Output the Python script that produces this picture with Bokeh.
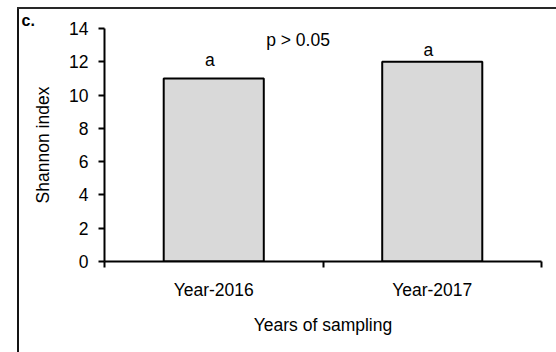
from bokeh.plotting import figure
from bokeh.models import Range1d, FixedTicker, ColumnDataSource, Label
from bokeh.embed import file_html
from bokeh.resources import INLINE
from bokeh.core.properties import value

# data
years = ["Year-2016", "Year-2017"]
shannon = [11, 12]
letters = ["a", "a"]
y_ticks = [0, 2, 4, 6, 8, 10, 12, 14]
p_text = "p > 0.05"
panel = "c."

FONT = "Liberation Sans"
FS = "17.5px"

xs = [i + 0.5 for i in range(len(years))]
src = ColumnDataSource(dict(x=xs, top=shannon, lab=letters, yoff=[-18, -12]))

p = figure(width=556, height=352, output_backend="svg", toolbar_location=None,
           x_range=Range1d(0, len(years)), y_range=Range1d(0, 14),
           min_border_left=104, min_border_right=15, min_border_top=28, min_border_bottom=91,
           title=panel)
p.border_fill_alpha = 0
p.background_fill_color = "white"
p.styles = {
    "background-color": "white",
    "background-image": "linear-gradient(to bottom, rgb(40,40,40), rgb(40,40,40)), "
                        "linear-gradient(to right, rgb(20,20,20), rgb(20,20,20))",
    "background-position": "17px 7px, 17px 7px",
    "background-size": "539px 2px, 2px 345px",
    "background-repeat": "no-repeat, no-repeat",
}
p.outline_line_color = None
p.xgrid.visible = False
p.ygrid.visible = False

p.title.align = "left"
p.title.offset = -83
p.title.standoff = 0
p.title.text_font = FONT
p.title.text_font_size = "16px"
p.title.text_font_style = "bold"
p.title.text_color = "black"

p.vbar(x="x", top="top", width=0.458, source=src, fill_color="#d9d9d9",
       line_color="black", line_width=2)

p.text(x="x", y="top", text="lab", source=src, x_offset=-4, y_offset="yoff",
       text_align="center", text_baseline="alphabetic",
       text_font=value(FONT), text_font_size=FS, text_color="black")

p.add_layout(Label(x=0.74, y=13.3, text=p_text, text_align="left", text_baseline="alphabetic",
                   text_font=FONT, text_font_size=FS, text_color="black"))

# y axis
ya = p.yaxis[0]
ya.ticker = FixedTicker(ticks=y_ticks)
ya.axis_label = "Shannon index"
ya.axis_line_width = 2
ya.axis_line_color = "black"
ya.major_tick_out = 6
ya.major_tick_in = 0
ya.major_tick_line_width = 2
ya.major_tick_line_color = "black"
ya.minor_tick_line_color = None
ya.major_label_standoff = 10
ya.major_label_text_font = FONT
ya.major_label_text_font_size = FS
ya.major_label_text_color = "black"
ya.axis_label_text_font = FONT
ya.axis_label_text_font_size = FS
ya.axis_label_text_font_style = "normal"
ya.axis_label_text_color = "black"
ya.axis_label_standoff = 13

# x axis
xa = p.xaxis[0]
xa.ticker = FixedTicker(ticks=xs, minor_ticks=list(range(len(years) + 1)))
xa.major_label_overrides = {x: y for x, y in zip(xs, years)}
xa.axis_label = "Years of sampling"
xa.axis_line_width = 2
xa.axis_line_color = "black"
xa.major_tick_out = 0
xa.major_tick_in = 0
xa.major_tick_line_color = None
xa.minor_tick_out = 6
xa.minor_tick_in = 0
xa.minor_tick_line_width = 2
xa.minor_tick_line_color = "black"
xa.major_label_standoff = 12
xa.major_label_text_font = FONT
xa.major_label_text_font_size = FS
xa.major_label_text_color = "black"
xa.axis_label_text_font = FONT
xa.axis_label_text_font_size = FS
xa.axis_label_text_font_style = "normal"
xa.axis_label_text_color = "black"
xa.axis_label_standoff = 12

open("out.html", "w").write(file_html(p, INLINE))
